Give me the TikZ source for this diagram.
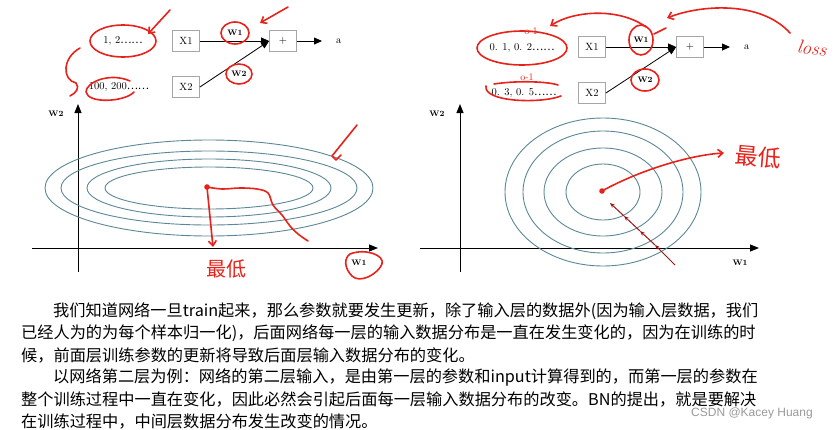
\documentclass[tikz,border=0pt]{standalone}
\usepackage{fontspec}
\newfontfamily\cjk{Noto Sans CJK SC}
\newfontfamily\wmfont{Liberation Sans}
\usetikzlibrary{
  arrows.meta,
  chains,
  positioning,
  scopes
}
\definecolor{contour}{HTML}{5B8796}
\definecolor{inkred}{HTML}{E8221A}
\definecolor{inkdark}{HTML}{9E1512}

\begin{document}
\begin{tikzpicture}[x=1pt,y=-1pt,
      unit/.style={
         rectangle,
         minimum width=27pt,
         minimum height=21pt,
         inner sep=0pt,
         line width=0.8pt,
         draw=black!35,
         font=\fontsize{10.5}{12}\selectfont
      },
      sample/.style={inner sep=0pt,font=\fontsize{10.5}{12}\selectfont},
      weight/.style={inner sep=0pt,font=\fontsize{8}{10}\selectfont\bfseries},
      tip/.style={-{Triangle[length=8pt,width=7pt]},line width=0.8pt},
      every join/.style={draw=black},
      axisline/.style={-{Triangle[length=9pt,width=7pt]},line width=1pt},
      contourline/.style={draw=contour,line width=0.9pt},
      ink/.style={draw=inkred,line width=1.6pt,line cap=round,line join=round},
      barb/.style={ink,-{Straight Barb[length=5pt,width=8pt]}},
      trail/.style={draw=inkdark,line width=1pt,-{Stealth[length=5pt,width=4pt]}},
      scrawl/.style={text=inkred,inner sep=0pt,font=\cjk\fontsize{20}{20}\selectfont},
      body/.style={anchor=west,inner sep=0pt,font=\cjk\fontsize{16.2}{20}\selectfont},
    ]
    \useasboundingbox (0,0) rectangle (839,429);

    % left network
    \node (in1) [sample] at (123,41) {1, 2{\cjk ……}};
    \node (in2) [sample] at (119,87) {100, 200{\cjk ……}};
    \node (x1) [unit] at (186,41) {X1};
    \node (x2) [unit] at (186,87) {X2};
    \node (plus1) [unit] at (283,41) {+};
    \coordinate (out1) at (322,41);
    \node (a1) [sample, right=14pt of out1] {a};
    \node (w11) [weight] at (235,33) {W1};
    \node (w21) [weight] at (239,74) {W2};
  { [start chain]
       \chainin (x1);
       \chainin (plus1)    [join=by tip];
  }
  { [start chain]
       \chainin (plus1);
       \chainin (out1)    [join=by tip];
  }
    \draw[tip] (x2.east) -- (plus1.west);

    % right network
    \node (in3) [sample] at (522,48) {0. 1, 0. 2{\cjk ……}};
    \node (in4) [sample] at (524,93) {0. 3, 0. 5{\cjk ……}};
    \node (x3) [unit] at (592,47) {X1};
    \node (x4) [unit] at (592,93) {X2};
    \node (plus2) [unit] at (690,47) {+};
    \coordinate (out2) at (730,47);
    \node (a2) [sample, right=14pt of out2] {a};
    \node (w12) [weight] at (641,40) {W1};
    \node (w22) [weight] at (645,80) {W2};
  { [start chain]
       \chainin (x3);
       \chainin (plus2)    [join=by tip];
  }
  { [start chain]
       \chainin (plus2);
       \chainin (out2)    [join=by tip];
  }
    \draw[tip] (x4.east) -- (plus2.west);

    % left plot
    \coordinate (lyb) at (78,272);
    \coordinate (lyt) at (78,104);
    \coordinate (lxl) at (32,248);
    \coordinate (lxr) at (378,248);
    \draw[axisline] (lyb) -- (lyt);
    \draw[axisline] (lxl) -- (lxr);
    \node (lw2) [weight] at (56,114) {W2};
    \node (lw1) [weight] at (359,263) {W1};
    \coordinate (lmin) at (209,188);
    \draw[contourline] (lmin) ellipse [x radius=164, y radius=48];
    \draw[contourline] (lmin) ellipse [x radius=148, y radius=37];
    \draw[contourline] (lmin) ellipse [x radius=122, y radius=29];
    \draw[contourline] (lmin) ellipse [x radius=104, y radius=21];

    % right plot
    \coordinate (ryb) at (460,272);
    \coordinate (ryt) at (460,104);
    \coordinate (rxl) at (420,248);
    \coordinate (rxr) at (759,248);
    \draw[axisline] (ryb) -- (ryt);
    \draw[axisline] (rxl) -- (rxr);
    \node (rw2) [weight] at (437,114) {W2};
    \node (rw1) [weight] at (740,263) {W1};
    \coordinate (rmin) at (603,192);
    \draw[contourline] (rmin) ellipse [x radius=98, y radius=74];
    \draw[contourline] (rmin) ellipse [x radius=80, y radius=61];
    \draw[contourline] (rmin) ellipse [x radius=59, y radius=44];
    \draw[contourline] (rmin) ellipse [x radius=37, y radius=28];

    % red marks, left
    \draw[ink] (in1) ellipse [x radius=33, y radius=16];
    \draw[ink] (w11) ellipse [x radius=14, y radius=11];
    \draw[ink] (w21) ellipse [x radius=13, y radius=10];
    \draw[ink] (130,81) .. controls (110,72) and (86,82) .. (86,92)
               .. controls (88,104) and (125,102) .. (134,92);
    \draw[ink] (80,48) .. controls (62,58) and (62,80) .. (76,83)
               .. controls (80,88) and (76,93) .. (70,96);
    \coordinate (p1) at (170,10);
    \coordinate (q1) at (148,34);
    \draw[barb] (p1) -- (q1);
    \coordinate (p2) at (288,7);
    \coordinate (q2) at (260,23);
    \draw[barb] (p2) -- (q2);
    \draw[ink] (357,125) -- (332,156) -- (336,160) -- (341,155);
    \draw[ink] (350,254) .. controls (365,248) and (385,255) .. (382,264)
               .. controls (378,274) and (360,284) .. (352,276)
               .. controls (344,268) and (344,258) .. (350,254);
    \coordinate (ldot) at (207,187);
    \coordinate (lbest) at (213,247);
    \draw[ink] plot[smooth, tension=0.6] coordinates {(207,187) (222,189) (240,188) (257,189) (268,193) (273,205) (282,215) (290,226) (298,234) (308,241)};
    \fill[inkred] (ldot) circle (2.8);
    \draw[barb] (ldot) -- (lbest);
    \node (lowl) [scrawl] at (226,269) {最低};

    % red marks, right
    \draw[ink] (in3) ellipse [x radius=45, y radius=17];
    \draw[ink] (w12) ellipse [x radius=12, y radius=15];
    \draw[ink] (w22) ellipse [x radius=14, y radius=11];
    \draw[ink] (486,86) .. controls (483,102) and (540,104) .. (561,96);
    \draw[ink] (494,84) .. controls (520,80) and (550,82) .. (558,85);
    \node (g1) [text=inkred, inner sep=0pt, font=\fontsize{10}{10}\selectfont] at (531,31) {o-1};
    \node (g2) [text=inkred, inner sep=0pt, font=\fontsize{10}{10}\selectfont] at (527,77) {o-1};
    \draw[ink] (654,34) -- (666,28);
    \coordinate (p3) at (646,27);
    \coordinate (q3) at (550,26);
    \draw[barb] (p3) .. controls (620,8) and (575,10) .. (q3);
    \node (loss) [text=inkred, inner sep=0pt, rotate=-8, font=\fontsize{19}{19}\selectfont\itshape] at (812,48) {loss};
    \coordinate (q4) at (667,18);
    \draw[barb] (loss.north west) ++(-8,-6) .. controls (760,0) and (700,5) .. (q4);
    \coordinate (rdot) at (602,191);
    \coordinate (rbest) at (724,153);
    \fill[inkred] (rdot) circle (2.8);
    \draw[barb] (rdot) .. controls (640,170) and (690,155) .. (rbest);
    \node (lowr) [scrawl, font=\cjk\fontsize{23}{23}\selectfont, rotate=-5] at (758,157) {最低};
    \coordinate (t0) at (675,265);
    \coordinate (t1) at (655,245);
    \coordinate (t2) at (640,231);
    \coordinate (t3) at (624,216);
    \coordinate (t4) at (610,203);
    \draw[trail] (t0) -- (t1);
    \draw[trail] (t1) -- (t2);
    \draw[trail] (t2) -- (t3);
    \draw[trail] (t3) -- (t4);

    % text
    \node (line1) [body] at (53,311) {我们知道网络一旦train起来，那么参数就要发生更新，除了输入层的数据外(因为输入层数据，我们};
    \node (line2) [body] at (21,333) {已经人为的为每个样本归一化)，后面网络每一层的输入数据分布是一直在发生变化的，因为在训练的时};
    \node (line3) [body] at (21,355) {候，前面层训练参数的更新将导致后面层输入数据分布的变化。};
    \node (line4) [body] at (53,377) {以网络第二层为例：网络的第二层输入，是由第一层的参数和input计算得到的，而第一层的参数在};
    \node (line5) [body] at (21,399) {整个训练过程中一直在变化，因此必然会引起后面每一层输入数据分布的改变。BN的提出，就是要解决};
    \node (line6) [body] at (21,421) {在训练过程中，中间层数据分布发生改变的情况。};
    \node (stamp) [text=black!40, inner sep=0pt, font=\wmfont\fontsize{12}{12}\selectfont] at (752,413) {CSDN @Kacey Huang};
\end{tikzpicture}
\end{document}
